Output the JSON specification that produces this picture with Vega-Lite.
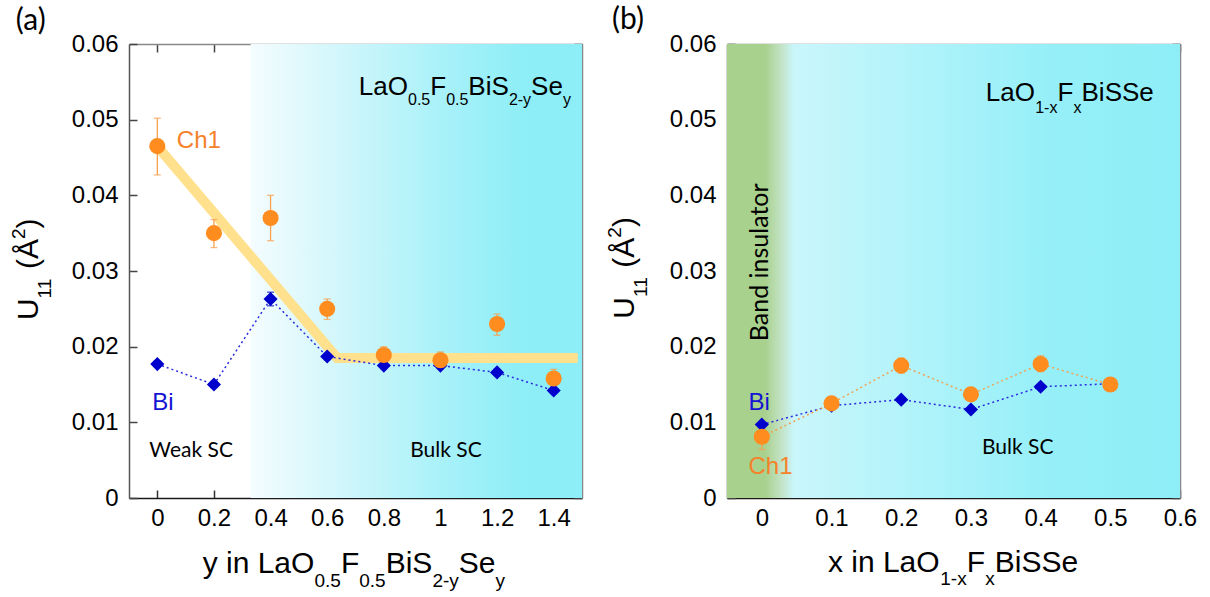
{
  "$schema": "https://vega.github.io/schema/vega-lite/v6.json",
  "background": "white",
  "padding": {"left": 9, "top": 4, "right": 0, "bottom": 0},
  "bounds": "flush",
  "spacing": 145,
  "config": {
    "view": {"stroke": null},
    "axis": {"grid": false, "labelFont": "Liberation Sans", "labelFontSize": 24, "labelColor": "#000", "tickSize": -8, "tickWidth": 1.5, "domainWidth": 1.5},
    "text": {"font": "Liberation Sans"}
  },
  "datasets": {
    "a_ch1": [
      {"x": 0, "u": 0.0465, "lo": 0.0427, "hi": 0.0502},
      {"x": 0.2, "u": 0.0350, "lo": 0.0331, "hi": 0.0368},
      {"x": 0.4, "u": 0.0370, "lo": 0.0340, "hi": 0.0400},
      {"x": 0.6, "u": 0.0250, "lo": 0.0236, "hi": 0.0263},
      {"x": 0.8, "u": 0.0189, "lo": 0.0178, "hi": 0.0200},
      {"x": 1.0, "u": 0.0182, "lo": 0.0172, "hi": 0.0193},
      {"x": 1.2, "u": 0.0230, "lo": 0.0215, "hi": 0.0243},
      {"x": 1.4, "u": 0.0158, "lo": 0.0148, "hi": 0.0170}
    ],
    "a_bi": [
      {"x": 0, "u": 0.0177, "lo": 0.0173, "hi": 0.0181},
      {"x": 0.2, "u": 0.0150, "lo": 0.0146, "hi": 0.0154},
      {"x": 0.4, "u": 0.0263, "lo": 0.0254, "hi": 0.0272},
      {"x": 0.6, "u": 0.0187, "lo": 0.0183, "hi": 0.0191},
      {"x": 0.8, "u": 0.0175, "lo": 0.0171, "hi": 0.0179},
      {"x": 1.0, "u": 0.0175, "lo": 0.0171, "hi": 0.0179},
      {"x": 1.2, "u": 0.0166, "lo": 0.0162, "hi": 0.0170},
      {"x": 1.4, "u": 0.0142, "lo": 0.0138, "hi": 0.0146}
    ],
    "a_fit": [
      {"x": 0, "u": 0.0465},
      {"x": 0.635, "u": 0.0185},
      {"x": 1.485, "u": 0.0185}
    ],
    "b_ch1": [
      {"x": 0, "u": 0.0081, "lo": 0.0064, "hi": 0.0097},
      {"x": 0.1, "u": 0.0125, "lo": 0.0118, "hi": 0.0131},
      {"x": 0.2, "u": 0.0175, "lo": 0.0165, "hi": 0.0185},
      {"x": 0.3, "u": 0.0137, "lo": 0.0130, "hi": 0.0144},
      {"x": 0.4, "u": 0.0177, "lo": 0.0167, "hi": 0.0188},
      {"x": 0.5, "u": 0.0150, "lo": 0.0142, "hi": 0.0158}
    ],
    "b_bi": [
      {"x": 0, "u": 0.0097, "lo": 0.0093, "hi": 0.0101},
      {"x": 0.1, "u": 0.0122, "lo": 0.0118, "hi": 0.0126},
      {"x": 0.2, "u": 0.0130, "lo": 0.0126, "hi": 0.0134},
      {"x": 0.3, "u": 0.0117, "lo": 0.0113, "hi": 0.0121},
      {"x": 0.4, "u": 0.0147, "lo": 0.0143, "hi": 0.0151},
      {"x": 0.5, "u": 0.0151, "lo": 0.0147, "hi": 0.0155}
    ],
    "labels": [
      {"p": "a", "r": "main", "t": "LaO", "x": 0.7118, "y": 0.0532},
      {"p": "a", "r": "sub", "t": "0.5", "x": 0.8854, "y": 0.0532},
      {"p": "a", "r": "main", "t": "F", "x": 0.9639, "y": 0.0532},
      {"p": "a", "r": "sub", "t": "0.5", "x": 1.0201, "y": 0.0532},
      {"p": "a", "r": "main", "t": "BiS", "x": 1.0986, "y": 0.0532},
      {"p": "a", "r": "sub", "t": "2-y", "x": 1.2418, "y": 0.0532},
      {"p": "a", "r": "main", "t": "Se", "x": 1.3203, "y": 0.0532},
      {"p": "a", "r": "sub", "t": "y", "x": 1.4328, "y": 0.0532},
      {"p": "a", "r": "axmain", "t": "y in LaO", "x": 0.1602, "y": -0.0099},
      {"p": "a", "r": "axsub", "t": "0.5", "x": 0.5552, "y": -0.0099},
      {"p": "a", "r": "axmain", "t": "F", "x": 0.6485, "y": -0.0099},
      {"p": "a", "r": "axsub", "t": "0.5", "x": 0.7133, "y": -0.0099},
      {"p": "a", "r": "axmain", "t": "BiS", "x": 0.8066, "y": -0.0099},
      {"p": "a", "r": "axsub", "t": "2-y", "x": 0.9717, "y": -0.0099},
      {"p": "a", "r": "axmain", "t": "Se", "x": 1.0650, "y": -0.0099},
      {"p": "a", "r": "axsub", "t": "y", "x": 1.1949, "y": -0.0099},
      {"p": "a", "r": "ymain", "t": "U", "x": -0.4218, "y": 0.02351},
      {"p": "a", "r": "ysub", "t": "11", "x": -0.4218, "y": 0.02638},
      {"p": "a", "r": "ymain", "t": "(Å", "x": -0.4218, "y": 0.03026},
      {"p": "a", "r": "ysup", "t": "2", "x": -0.4218, "y": 0.03422},
      {"p": "a", "r": "ymain", "t": ")", "x": -0.4218, "y": 0.03562},
      {"p": "a", "r": "ch1", "t": "Ch1", "x": 0.069, "y": 0.0462},
      {"p": "a", "r": "bi", "t": "Bi", "x": -0.018, "y": 0.0116},
      {"p": "a", "r": "region", "t": "Weak SC", "x": 0.1195, "y": 0.00546},
      {"p": "a", "r": "region", "t": "Bulk SC", "x": 1.0195, "y": 0.00546},
      {"p": "a", "r": "panel", "t": "(a)", "x": -0.4996, "y": 0.0618},
      {"p": "b", "r": "main", "t": "LaO", "x": 0.3213, "y": 0.0525},
      {"p": "b", "r": "sub", "t": "1-x", "x": 0.3922, "y": 0.0525},
      {"p": "b", "r": "main", "t": "F", "x": 0.4242, "y": 0.0525},
      {"p": "b", "r": "sub", "t": "x", "x": 0.4471, "y": 0.0525},
      {"p": "b", "r": "main", "t": "BiSSe", "x": 0.4587, "y": 0.0525},
      {"p": "b", "r": "axmain", "t": "x in LaO", "x": 0.0948, "y": -0.00978},
      {"p": "b", "r": "axsub", "t": "1-x", "x": 0.2560, "y": -0.00978},
      {"p": "b", "r": "axmain", "t": "F", "x": 0.2941, "y": -0.00978},
      {"p": "b", "r": "axsub", "t": "x", "x": 0.3205, "y": -0.00978},
      {"p": "b", "r": "axmain", "t": "BiSSe", "x": 0.3342, "y": -0.00978},
      {"p": "b", "r": "ymain", "t": "U", "x": -0.1828, "y": 0.02369},
      {"p": "b", "r": "ysub", "t": "11", "x": -0.1828, "y": 0.02656},
      {"p": "b", "r": "ymain", "t": "(Å", "x": -0.1828, "y": 0.03044},
      {"p": "b", "r": "ysup", "t": "2", "x": -0.1828, "y": 0.03440},
      {"p": "b", "r": "ymain", "t": ")", "x": -0.1828, "y": 0.03580},
      {"p": "b", "r": "bi", "t": "Bi", "x": -0.0192, "y": 0.01157},
      {"p": "b", "r": "ch1", "t": "Ch1", "x": -0.0192, "y": 0.00321},
      {"p": "b", "r": "region", "t": "Bulk SC", "x": 0.3671, "y": 0.00576},
      {"p": "b", "r": "rotregion", "t": "Band insulator", "x": 0.0082, "y": 0.03115},
      {"p": "b", "r": "panel", "t": "(b)", "x": -0.2149, "y": 0.0620}
    ]
  },
  "hconcat": [
    {
      "width": 453,
      "height": 454,
      "layer": [
        {
          "data": {"values": [{"x1": 0.33, "x2": 1.5}]},
          "mark": {"type": "rect", "color": {"gradient": "linear", "x1": 0, "y1": 0, "x2": 1, "y2": 0, "stops": [{"offset": 0, "color": "#f4fcfe"}, {"offset": 0.3, "color": "#cdf6fb"}, {"offset": 0.6, "color": "#a6f1f9"}, {"offset": 0.82, "color": "#8eeef7"}, {"offset": 1, "color": "#8eeef7"}]}},
          "encoding": {
            "x": {"field": "x1", "type": "quantitative", "scale": {"domain": [-0.1, 1.5], "nice": false, "zero": false}, "axis": {"orient": "top", "values": [0, 0.2, 0.4, 0.6, 0.8, 1, 1.2, 1.4], "labels": false, "title": null, "domainColor": "#888", "tickColor": "#444"}},
            "x2": {"field": "x2"},
            "y": {"datum": 0, "type": "quantitative", "scale": {"domain": [0, 0.06], "nice": false, "zero": false}, "axis": {"orient": "right", "values": [0, 0.01, 0.02, 0.03, 0.04, 0.05, 0.06], "labels": false, "title": null, "domainColor": "#888", "tickColor": "#444"}},
            "y2": {"datum": 0.06}
          }
        },
        {
          "data": {"name": "a_fit"},
          "mark": {"type": "line", "color": "#ffe08c", "strokeWidth": 10, "strokeCap": "butt"},
          "encoding": {
            "x": {"field": "x", "type": "quantitative", "scale": {"domain": [-0.1, 1.5], "nice": false, "zero": false}, "axis": null},
            "y": {"field": "u", "type": "quantitative", "scale": {"domain": [0, 0.06], "nice": false, "zero": false}, "axis": null}
          }
        },
        {
          "data": {"name": "a_bi"},
          "mark": {"type": "line", "color": "#2b2be0", "strokeWidth": 1.5, "strokeDash": [2, 3]},
          "encoding": {
            "x": {"field": "x", "type": "quantitative", "axis": null},
            "y": {"field": "u", "type": "quantitative", "axis": null}
          }
        },
        {
          "data": {"name": "a_ch1"},
          "mark": {"type": "errorbar", "ticks": {"size": 7}, "color": "#f7a04e", "thickness": 1.3},
          "encoding": {
            "x": {"field": "x", "type": "quantitative", "axis": null},
            "y": {"field": "lo", "type": "quantitative", "axis": null},
            "y2": {"field": "hi"}
          }
        },
        {
          "data": {"name": "a_bi"},
          "mark": {"type": "errorbar", "ticks": {"size": 7}, "color": "#0000b0", "thickness": 1.3},
          "encoding": {
            "x": {"field": "x", "type": "quantitative", "axis": null},
            "y": {"field": "lo", "type": "quantitative", "axis": null},
            "y2": {"field": "hi"}
          }
        },
        {
          "data": {"name": "a_bi"},
          "mark": {"type": "point", "shape": "diamond", "filled": true, "size": 200, "color": "#0000cc", "opacity": 1},
          "encoding": {
            "x": {"field": "x", "type": "quantitative", "axis": null},
            "y": {"field": "u", "type": "quantitative", "axis": null}
          }
        },
        {
          "data": {"name": "a_ch1"},
          "mark": {"type": "point", "shape": "circle", "filled": true, "size": 260, "color": "#ff8c1f", "opacity": 1},
          "encoding": {
            "x": {"field": "x", "type": "quantitative", "scale": {"domain": [-0.1, 1.5], "nice": false, "zero": false}, "axis": {"orient": "bottom", "values": [0, 0.2, 0.4, 0.6, 0.8, 1, 1.2, 1.4], "format": "~g", "title": null, "labelFlush": false, "labelOverlap": false, "domainColor": "#1a1a1a", "tickColor": "#333", "labelPadding": 16}},
            "y": {"field": "u", "type": "quantitative", "scale": {"domain": [0, 0.06], "nice": false, "zero": false}, "axis": {"orient": "left", "values": [0, 0.01, 0.02, 0.03, 0.04, 0.05, 0.06], "format": "~g", "title": null, "labelFlush": false, "labelOverlap": false, "domainColor": "#555", "tickColor": "#444", "labelPadding": 19}}
          }
        },
        {
          "data": {"name": "labels"},
          "transform": [{"filter": "datum.p === 'a' && datum.r === 'main'"}],
          "mark": {"type": "text", "align": "left", "baseline": "alphabetic", "fontSize": 26, "color": "#000"},
          "encoding": {"x": {"field": "x", "type": "quantitative", "axis": null}, "y": {"field": "y", "type": "quantitative", "axis": null}, "text": {"field": "t"}}
        },
        {
          "data": {"name": "labels"},
          "transform": [{"filter": "datum.p === 'a' && datum.r === 'sub'"}],
          "mark": {"type": "text", "align": "left", "baseline": "alphabetic", "fontSize": 16, "dy": 10, "color": "#000"},
          "encoding": {"x": {"field": "x", "type": "quantitative", "axis": null}, "y": {"field": "y", "type": "quantitative", "axis": null}, "text": {"field": "t"}}
        },
        {
          "data": {"name": "labels"},
          "transform": [{"filter": "datum.p === 'a' && datum.r === 'axmain'"}],
          "mark": {"type": "text", "align": "left", "baseline": "alphabetic", "fontSize": 30, "color": "#000"},
          "encoding": {"x": {"field": "x", "type": "quantitative", "axis": null}, "y": {"field": "y", "type": "quantitative", "axis": null}, "text": {"field": "t"}}
        },
        {
          "data": {"name": "labels"},
          "transform": [{"filter": "datum.p === 'a' && datum.r === 'axsub'"}],
          "mark": {"type": "text", "align": "left", "baseline": "alphabetic", "fontSize": 19, "dy": 14, "color": "#000"},
          "encoding": {"x": {"field": "x", "type": "quantitative", "axis": null}, "y": {"field": "y", "type": "quantitative", "axis": null}, "text": {"field": "t"}}
        },
        {
          "data": {"name": "labels"},
          "transform": [{"filter": "datum.p === 'a' && datum.r === 'ymain'"}],
          "mark": {"type": "text", "align": "left", "baseline": "alphabetic", "angle": 270, "fontSize": 30, "color": "#000"},
          "encoding": {"x": {"field": "x", "type": "quantitative", "axis": null}, "y": {"field": "y", "type": "quantitative", "axis": null}, "text": {"field": "t"}}
        },
        {
          "data": {"name": "labels"},
          "transform": [{"filter": "datum.p === 'a' && datum.r === 'ysub'"}],
          "mark": {"type": "text", "align": "left", "baseline": "alphabetic", "angle": 270, "fontSize": 19, "dy": 13, "color": "#000"},
          "encoding": {"x": {"field": "x", "type": "quantitative", "axis": null}, "y": {"field": "y", "type": "quantitative", "axis": null}, "text": {"field": "t"}}
        },
        {
          "data": {"name": "labels"},
          "transform": [{"filter": "datum.p === 'a' && datum.r === 'ysup'"}],
          "mark": {"type": "text", "align": "left", "baseline": "alphabetic", "angle": 270, "fontSize": 19, "dy": -13, "color": "#000"},
          "encoding": {"x": {"field": "x", "type": "quantitative", "axis": null}, "y": {"field": "y", "type": "quantitative", "axis": null}, "text": {"field": "t"}}
        },
        {
          "data": {"name": "labels"},
          "transform": [{"filter": "datum.p === 'a' && datum.r === 'ch1'"}],
          "mark": {"type": "text", "align": "left", "baseline": "alphabetic", "fontSize": 24, "color": "#f5822a"},
          "encoding": {"x": {"field": "x", "type": "quantitative", "axis": null}, "y": {"field": "y", "type": "quantitative", "axis": null}, "text": {"field": "t"}}
        },
        {
          "data": {"name": "labels"},
          "transform": [{"filter": "datum.p === 'a' && datum.r === 'bi'"}],
          "mark": {"type": "text", "align": "left", "baseline": "alphabetic", "fontSize": 24, "color": "#1414d2"},
          "encoding": {"x": {"field": "x", "type": "quantitative", "axis": null}, "y": {"field": "y", "type": "quantitative", "axis": null}, "text": {"field": "t"}}
        },
        {
          "data": {"name": "labels"},
          "transform": [{"filter": "datum.p === 'a' && datum.r === 'region'"}],
          "mark": {"type": "text", "align": "center", "baseline": "alphabetic", "fontSize": 21, "font": "Lato", "color": "#000"},
          "encoding": {"x": {"field": "x", "type": "quantitative", "axis": null}, "y": {"field": "y", "type": "quantitative", "axis": null}, "text": {"field": "t"}}
        },
        {
          "data": {"name": "labels"},
          "transform": [{"filter": "datum.p === 'a' && datum.r === 'panel'"}],
          "mark": {"type": "text", "align": "left", "baseline": "alphabetic", "fontSize": 30, "font": "Lato", "color": "#000"},
          "encoding": {"x": {"field": "x", "type": "quantitative", "axis": null}, "y": {"field": "y", "type": "quantitative", "axis": null}, "text": {"field": "t"}}
        }
      ]
    },
    {
      "width": 453,
      "height": 454,
      "layer": [
        {
          "data": {"values": [{"x1": -0.05, "x2": 0.6}]},
          "mark": {"type": "rect", "color": {"gradient": "linear", "x1": 0, "y1": 0, "x2": 1, "y2": 0, "stops": [{"offset": 0, "color": "#a9d18e"}, {"offset": 0.085, "color": "#a9d18e"}, {"offset": 0.12, "color": "#c3e3c6"}, {"offset": 0.148, "color": "#c9f6fb"}, {"offset": 0.4, "color": "#b2f3fa"}, {"offset": 0.72, "color": "#95eff8"}, {"offset": 1, "color": "#8eeef7"}]}},
          "encoding": {
            "x": {"field": "x1", "type": "quantitative", "scale": {"domain": [-0.05, 0.6], "nice": false, "zero": false}, "axis": {"orient": "top", "values": [0, 0.1, 0.2, 0.3, 0.4, 0.5, 0.6], "labels": false, "title": null, "domainColor": "#888", "tickColor": "#444"}},
            "x2": {"field": "x2"},
            "y": {"datum": 0, "type": "quantitative", "scale": {"domain": [0, 0.06], "nice": false, "zero": false}, "axis": {"orient": "right", "values": [0, 0.01, 0.02, 0.03, 0.04, 0.05, 0.06], "labels": false, "title": null, "domainColor": "#888", "tickColor": "#444"}},
            "y2": {"datum": 0.06}
          }
        },
        {
          "data": {"name": "b_bi"},
          "mark": {"type": "line", "color": "#2b2be0", "strokeWidth": 1.5, "strokeDash": [2, 3]},
          "encoding": {
            "x": {"field": "x", "type": "quantitative", "axis": null},
            "y": {"field": "u", "type": "quantitative", "axis": null}
          }
        },
        {
          "data": {"name": "b_ch1"},
          "mark": {"type": "line", "color": "#f5a04f", "strokeWidth": 1.5, "strokeDash": [2, 3]},
          "encoding": {
            "x": {"field": "x", "type": "quantitative", "axis": null},
            "y": {"field": "u", "type": "quantitative", "axis": null}
          }
        },
        {
          "data": {"name": "b_ch1"},
          "mark": {"type": "errorbar", "ticks": {"size": 7}, "color": "#f7a04e", "thickness": 1.3},
          "encoding": {
            "x": {"field": "x", "type": "quantitative", "axis": null},
            "y": {"field": "lo", "type": "quantitative", "axis": null},
            "y2": {"field": "hi"}
          }
        },
        {
          "data": {"name": "b_bi"},
          "mark": {"type": "point", "shape": "diamond", "filled": true, "size": 200, "color": "#0000cc", "opacity": 1},
          "encoding": {
            "x": {"field": "x", "type": "quantitative", "axis": null},
            "y": {"field": "u", "type": "quantitative", "axis": null}
          }
        },
        {
          "data": {"name": "b_ch1"},
          "mark": {"type": "point", "shape": "circle", "filled": true, "size": 260, "color": "#ff8c1f", "opacity": 1},
          "encoding": {
            "x": {"field": "x", "type": "quantitative", "scale": {"domain": [-0.05, 0.6], "nice": false, "zero": false}, "axis": {"orient": "bottom", "values": [0, 0.1, 0.2, 0.3, 0.4, 0.5, 0.6], "format": "~g", "title": null, "labelFlush": false, "labelOverlap": false, "domainColor": "#1a1a1a", "tickColor": "#333", "labelPadding": 16}},
            "y": {"field": "u", "type": "quantitative", "scale": {"domain": [0, 0.06], "nice": false, "zero": false}, "axis": {"orient": "left", "values": [0, 0.01, 0.02, 0.03, 0.04, 0.05, 0.06], "format": "~g", "title": null, "labelFlush": false, "labelOverlap": false, "domainColor": "#555", "tickColor": "#444", "labelPadding": 19}}
          }
        },
        {
          "data": {"name": "labels"},
          "transform": [{"filter": "datum.p === 'b' && datum.r === 'main'"}],
          "mark": {"type": "text", "align": "left", "baseline": "alphabetic", "fontSize": 26, "color": "#000"},
          "encoding": {"x": {"field": "x", "type": "quantitative", "axis": null}, "y": {"field": "y", "type": "quantitative", "axis": null}, "text": {"field": "t"}}
        },
        {
          "data": {"name": "labels"},
          "transform": [{"filter": "datum.p === 'b' && datum.r === 'sub'"}],
          "mark": {"type": "text", "align": "left", "baseline": "alphabetic", "fontSize": 16, "dy": 12, "color": "#000"},
          "encoding": {"x": {"field": "x", "type": "quantitative", "axis": null}, "y": {"field": "y", "type": "quantitative", "axis": null}, "text": {"field": "t"}}
        },
        {
          "data": {"name": "labels"},
          "transform": [{"filter": "datum.p === 'b' && datum.r === 'axmain'"}],
          "mark": {"type": "text", "align": "left", "baseline": "alphabetic", "fontSize": 30, "color": "#000"},
          "encoding": {"x": {"field": "x", "type": "quantitative", "axis": null}, "y": {"field": "y", "type": "quantitative", "axis": null}, "text": {"field": "t"}}
        },
        {
          "data": {"name": "labels"},
          "transform": [{"filter": "datum.p === 'b' && datum.r === 'axsub'"}],
          "mark": {"type": "text", "align": "left", "baseline": "alphabetic", "fontSize": 19, "dy": 13, "color": "#000"},
          "encoding": {"x": {"field": "x", "type": "quantitative", "axis": null}, "y": {"field": "y", "type": "quantitative", "axis": null}, "text": {"field": "t"}}
        },
        {
          "data": {"name": "labels"},
          "transform": [{"filter": "datum.p === 'b' && datum.r === 'ymain'"}],
          "mark": {"type": "text", "align": "left", "baseline": "alphabetic", "angle": 270, "fontSize": 30, "color": "#000"},
          "encoding": {"x": {"field": "x", "type": "quantitative", "axis": null}, "y": {"field": "y", "type": "quantitative", "axis": null}, "text": {"field": "t"}}
        },
        {
          "data": {"name": "labels"},
          "transform": [{"filter": "datum.p === 'b' && datum.r === 'ysub'"}],
          "mark": {"type": "text", "align": "left", "baseline": "alphabetic", "angle": 270, "fontSize": 19, "dy": 13, "color": "#000"},
          "encoding": {"x": {"field": "x", "type": "quantitative", "axis": null}, "y": {"field": "y", "type": "quantitative", "axis": null}, "text": {"field": "t"}}
        },
        {
          "data": {"name": "labels"},
          "transform": [{"filter": "datum.p === 'b' && datum.r === 'ysup'"}],
          "mark": {"type": "text", "align": "left", "baseline": "alphabetic", "angle": 270, "fontSize": 19, "dy": -13, "color": "#000"},
          "encoding": {"x": {"field": "x", "type": "quantitative", "axis": null}, "y": {"field": "y", "type": "quantitative", "axis": null}, "text": {"field": "t"}}
        },
        {
          "data": {"name": "labels"},
          "transform": [{"filter": "datum.p === 'b' && datum.r === 'ch1'"}],
          "mark": {"type": "text", "align": "left", "baseline": "alphabetic", "fontSize": 24, "color": "#f5822a"},
          "encoding": {"x": {"field": "x", "type": "quantitative", "axis": null}, "y": {"field": "y", "type": "quantitative", "axis": null}, "text": {"field": "t"}}
        },
        {
          "data": {"name": "labels"},
          "transform": [{"filter": "datum.p === 'b' && datum.r === 'bi'"}],
          "mark": {"type": "text", "align": "left", "baseline": "alphabetic", "fontSize": 24, "color": "#1414d2"},
          "encoding": {"x": {"field": "x", "type": "quantitative", "axis": null}, "y": {"field": "y", "type": "quantitative", "axis": null}, "text": {"field": "t"}}
        },
        {
          "data": {"name": "labels"},
          "transform": [{"filter": "datum.p === 'b' && datum.r === 'region'"}],
          "mark": {"type": "text", "align": "center", "baseline": "alphabetic", "fontSize": 21, "font": "Lato", "color": "#000"},
          "encoding": {"x": {"field": "x", "type": "quantitative", "axis": null}, "y": {"field": "y", "type": "quantitative", "axis": null}, "text": {"field": "t"}}
        },
        {
          "data": {"name": "labels"},
          "transform": [{"filter": "datum.p === 'b' && datum.r === 'rotregion'"}],
          "mark": {"type": "text", "align": "center", "baseline": "alphabetic", "angle": 270, "fontSize": 25, "font": "Lato", "color": "#000"},
          "encoding": {"x": {"field": "x", "type": "quantitative", "axis": null}, "y": {"field": "y", "type": "quantitative", "axis": null}, "text": {"field": "t"}}
        },
        {
          "data": {"name": "labels"},
          "transform": [{"filter": "datum.p === 'b' && datum.r === 'panel'"}],
          "mark": {"type": "text", "align": "left", "baseline": "alphabetic", "fontSize": 30, "font": "Lato", "color": "#000"},
          "encoding": {"x": {"field": "x", "type": "quantitative", "axis": null}, "y": {"field": "y", "type": "quantitative", "axis": null}, "text": {"field": "t"}}
        }
      ]
    }
  ]
}
